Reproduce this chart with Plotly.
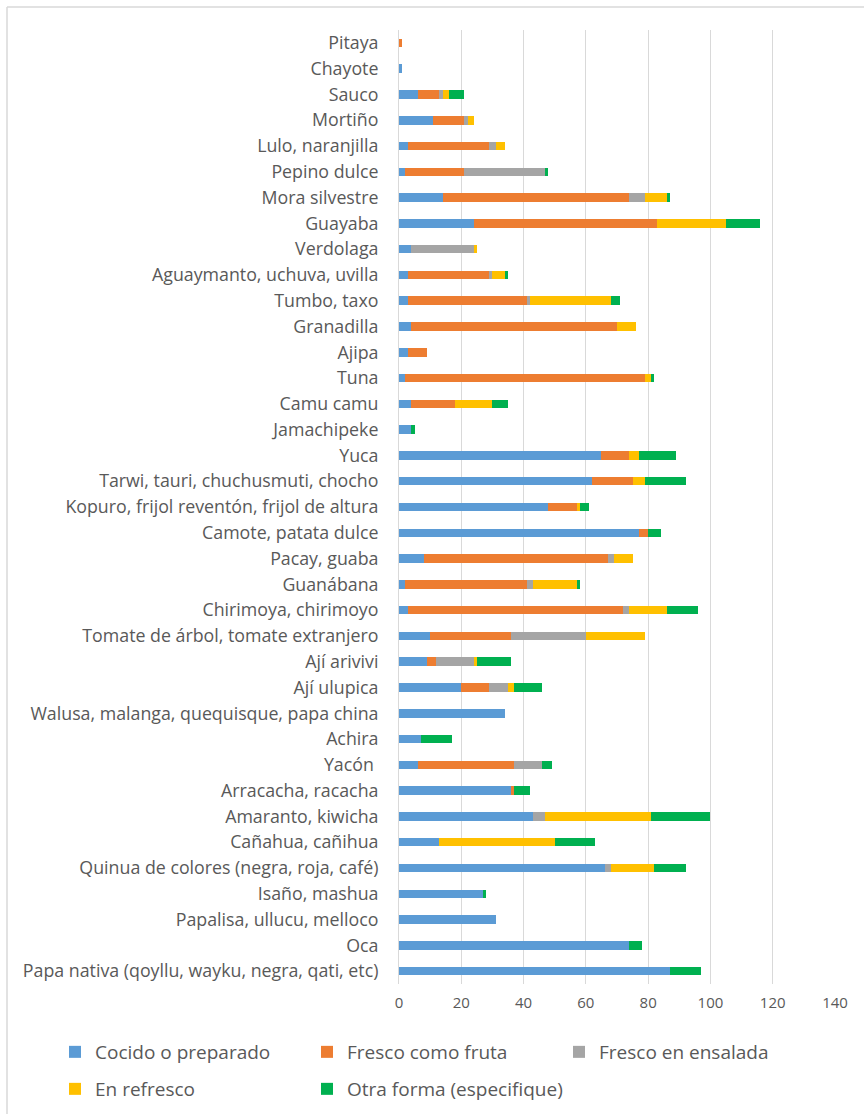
import plotly.graph_objects as go

categories = ["Pitaya", "Chayote", "Sauco", "Mortiño", "Lulo, naranjilla", "Pepino dulce",
              "Mora silvestre", "Guayaba", "Verdolaga", "Aguaymanto, uchuva, uvilla",
              "Tumbo, taxo", "Granadilla", "Ajipa", "Tuna", "Camu camu", "Jamachipeke",
              "Yuca", "Tarwi, tauri, chuchusmuti, chocho",
              "Kopuro, frijol reventón, frijol de altura", "Camote, patata dulce",
              "Pacay, guaba", "Guanábana", "Chirimoya, chirimoyo",
              "Tomate de árbol, tomate extranjero", "Ají arivivi", "Ají ulupica",
              "Walusa, malanga, quequisque, papa china", "Achira", "Yacón\u00a0",
              "Arracacha, racacha", "Amaranto, kiwicha", "Cañahua, cañihua",
              "Quinua de colores (negra, roja, café)", "Isaño, mashua",
              "Papalisa, ullucu, melloco", "Oca",
              "Papa nativa (qoyllu, wayku, negra, qati, etc)"]

cocido = [0, 1, 6, 11, 3, 2, 14, 24, 4, 3, 3, 4, 3, 2, 4, 4, 65, 62, 48, 77,
          8, 2, 3, 10, 9, 20, 34, 7, 6, 36, 43, 13, 66, 27, 31, 74, 87]
fruta = [1, 0, 7, 10, 26, 19, 60, 59, 0, 26, 38, 66, 6, 77, 14, 0, 9, 13, 9, 3,
         59, 39, 69, 26, 3, 9, 0, 0, 31, 1, 0, 0, 0, 0, 0, 0, 0]
ensalada = [0, 0, 1, 1, 2, 26, 5, 0, 20, 1, 1, 0, 0, 0, 0, 0, 0, 0, 0, 0,
            2, 2, 2, 24, 12, 6, 0, 0, 9, 0, 4, 0, 2, 0, 0, 0, 0]
refresco = [0, 0, 2, 2, 3, 0, 7, 22, 1, 4, 26, 6, 0, 2, 12, 0, 3, 4, 1, 0,
            6, 14, 12, 19, 1, 2, 0, 0, 0, 0, 34, 37, 14, 0, 0, 0, 0]
otra = [0, 0, 5, 0, 0, 1, 1, 11, 0, 1, 3, 0, 0, 1, 5, 1, 12, 13, 3, 4,
        0, 1, 10, 0, 11, 9, 0, 10, 3, 5, 19, 13, 10, 1, 0, 4, 10]

series_names = ["Cocido o preparado", "Fresco como fruta", "Fresco en ensalada",
                "En refresco", "Otra forma (especifique)"]
series_values = [cocido, fruta, ensalada, refresco, otra]
colors = ["#5B9BD5", "#ED7D31", "#A5A5A5", "#FFC000", "#00B050"]
legend_ids = ["legend", "legend", "legend", "legend2", "legend3"]
x_ticks = [0, 20, 40, 60, 80, 100, 120, 140]

FONT = "Open Sans"
TXT = "#595959"

fig = go.Figure()
for name, vals, col, lg in zip(series_names, series_values, colors, legend_ids):
    fig.add_trace(go.Bar(y=categories, x=vals, name=name, orientation="h",
                         marker=dict(color=col, line=dict(width=0)),
                         legend=lg))

# chart border (top and left edges visible)
border = "#D9D9D9"
shapes = [
    dict(type="line", xref="paper", yref="paper", x0=(7 - 399) / 436, x1=(864 - 399) / 436,
         y0=(984 - 7) / 954, y1=(984 - 7) / 954, line=dict(color=border, width=1.5)),
    dict(type="line", xref="paper", yref="paper", x0=(7 - 399) / 436, x1=(7 - 399) / 436,
         y0=(984 - 7) / 954, y1=(984 - 1114) / 954, line=dict(color=border, width=1.5)),
]

legend_common = dict(orientation="h", xanchor="left", yanchor="middle",
                     traceorder="normal", entrywidth=207, entrywidthmode="pixels",
                     font=dict(family=FONT, size=19, color=TXT), bgcolor="rgba(0,0,0,0)")
legend_single = dict(orientation="h", xanchor="left", yanchor="middle",
                     font=dict(family=FONT, size=19, color=TXT), bgcolor="rgba(0,0,0,0)")

fig.update_layout(
    barmode="stack",
    bargap=0.67,
    width=864, height=1114,
    margin=dict(l=399, r=29, t=30, b=130, autoexpand=False),
    paper_bgcolor="white", plot_bgcolor="white",
    font=dict(family=FONT, color=TXT, size=17.8),
    shapes=shapes,
    xaxis=dict(range=[0, 140], tickvals=x_ticks, showgrid=True, gridcolor="#D9D9D9",
               gridwidth=1, zeroline=False, showline=False, ticklabelstandoff=8,
               automargin=False,
               tickfont=dict(family=FONT, size=15, color=TXT)),
    yaxis=dict(autorange="reversed", showgrid=False, showline=True, linecolor="#D9D9D9",
               linewidth=1, ticks="", ticklabelstandoff=16, automargin=False,
               tickfont=dict(family=FONT, size=17.8, color=TXT)),
    legend=dict(legend_common, x=(55 - 399) / 436, y=(984 - 1052) / 954),
    legend2=dict(legend_single, x=(55 - 399) / 436, y=(984 - 1089) / 954),
    legend3=dict(legend_single, x=(307 - 399) / 436, y=(984 - 1089) / 954),
)

fig.write_html("out.html")
